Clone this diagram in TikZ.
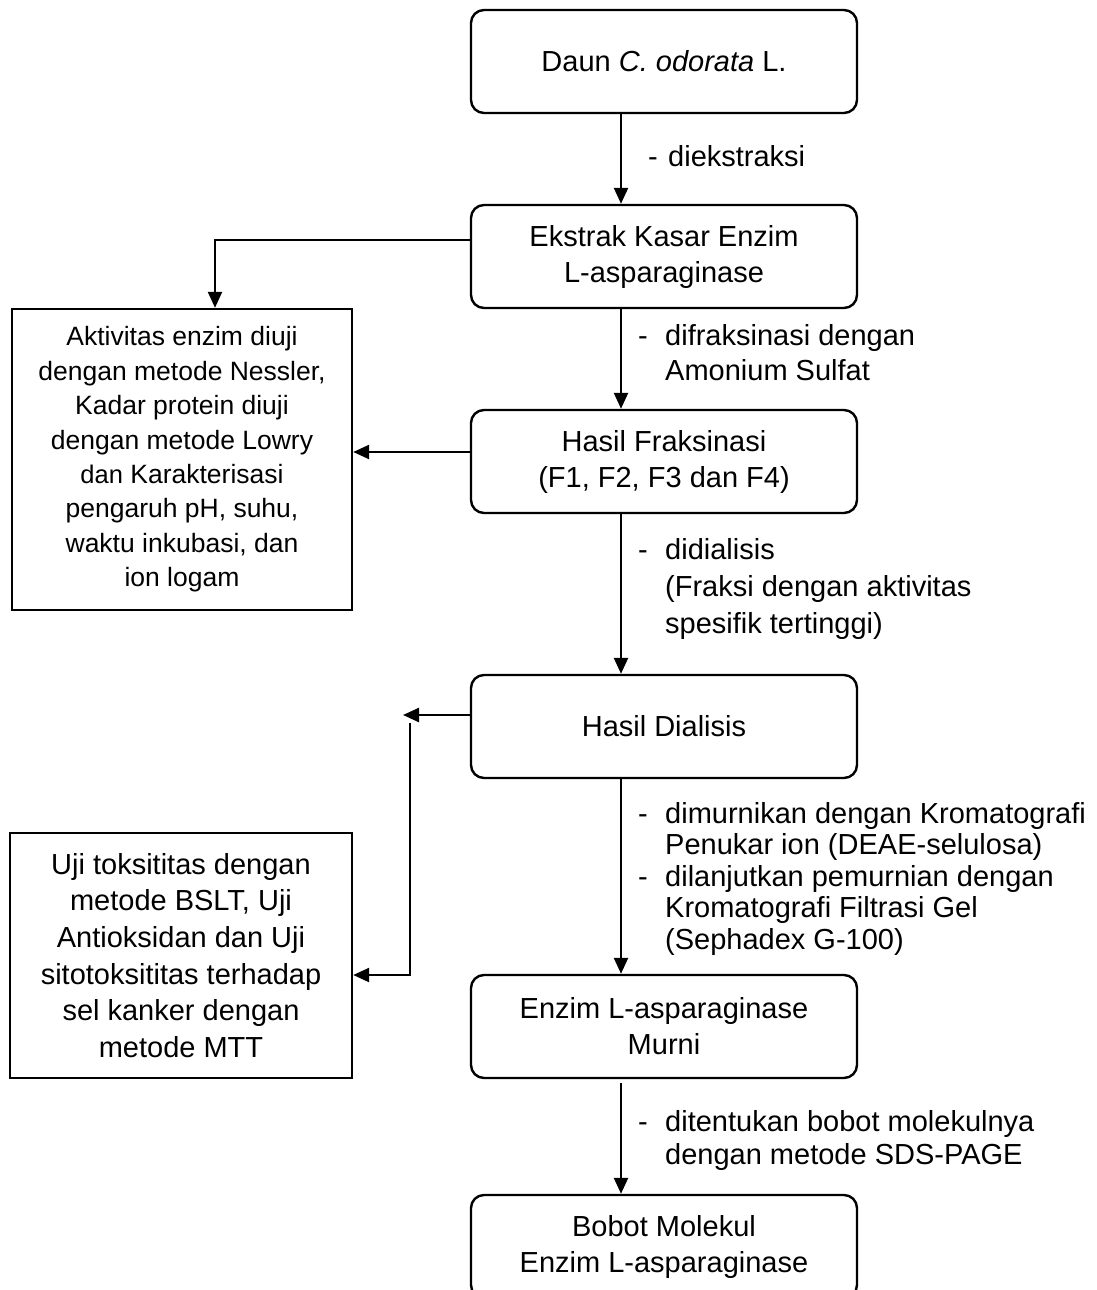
\documentclass[tikz,border=0pt]{standalone}
\usepackage{fontspec}
\setmainfont{Liberation Sans}
\usetikzlibrary{arrows.meta}
\begin{document}
\begin{tikzpicture}[x=1pt,y=-1pt,
  flowbox/.style={draw, line width=2.4pt, rounded corners=13pt,
    minimum width=386pt, minimum height=103pt, inner sep=0pt,
    align=center, font=\fontsize{29}{36}\selectfont},
  sidebox/.style={draw, line width=2.4pt, inner sep=0pt, align=center},
  lbl/.style={anchor=west, inner sep=0pt},
  arr/.style={line width=2.4pt, -{Triangle[length=16pt,width=14pt]}}
]
\useasboundingbox (0,0) rectangle (1096,1290);

% main column
\node[flowbox] (daun)     at (664,61.5)   {\raisebox{-3pt}{Daun \textit{C. odorata} L.}};
\node[flowbox] (ekstrak)  at (664,256.5)  {Ekstrak Kasar Enzim\\L-asparaginase};
\node[flowbox] (fraksi)   at (664,461.5)  {Hasil Fraksinasi\\(F1, F2, F3 dan F4)};
\node[flowbox] (dialisis) at (664,726.5)  {Hasil Dialisis};
\node[flowbox] (murni)    at (664,1026.5) {Enzim L-asparaginase\\Murni};
\node[flowbox] (bobot)    at (664,1246.5) {Bobot Molekul\\Enzim L-asparaginase};

% side boxes
\node[sidebox, minimum width=340pt, minimum height=301pt,
      font=\fontsize{26.5}{34.4}\selectfont] (aktiv) at (182,459.5)
  {Aktivitas enzim diuji\\dengan metode Nessler,\\Kadar protein diuji\\dengan metode Lowry\\{\fontsize{25.5}{34.4}\selectfont dan} Karakterisasi\\pengaruh pH, suhu,\\waktu inkubasi, dan\\ion logam};
\node[sidebox, minimum width=342pt, minimum height=245pt,
      font=\fontsize{29}{36.7}\selectfont] (uji) at (181,955.5)
  {Uji toksititas dengan\\metode BSLT, Uji\\Antioksidan dan Uji\\sitotoksititas terhadap\\sel kanker dengan\\metode MTT};

% step labels
\node[lbl, font=\fontsize{29}{35}\selectfont] (l1) at (648,159)
  {\begin{tabular}{@{}p{20pt}@{}l@{}}- & diekstraksi\end{tabular}};
\node[lbl, font=\fontsize{29}{35}\selectfont] (l2) at (638,355.5)
  {\begin{tabular}{@{}p{27pt}@{}l@{}}- & difraksinasi dengan\\ & Amonium Sulfat\end{tabular}};
\node[lbl, font=\fontsize{29}{37}\selectfont] (l3) at (638,589)
  {\begin{tabular}{@{}p{27pt}@{}l@{}}- & didialisis\\ & (Fraksi dengan aktivitas\\ & spesifik tertinggi)\end{tabular}};
\node[lbl, font=\fontsize{29}{31.5}\selectfont] (l4) at (638,880)
  {\begin{tabular}{@{}p{27pt}@{}l@{}}- & dimurnikan dengan Kromatografi\\ & Penukar ion (DEAE-selulosa)\\- & dilanjutkan pemurnian dengan\\ & Kromatografi Filtrasi Gel\\ & (Sephadex G-100)\end{tabular}};
\node[lbl, font=\fontsize{29}{33}\selectfont] (l5) at (638,1141.5)
  {\begin{tabular}{@{}p{27pt}@{}l@{}}- & ditentukan bobot molekulnya\\ & dengan metode SDS-PAGE\end{tabular}};

% guide coordinates for the connectors
\coordinate (xa) at (621,0);
\coordinate (xb) at (215,0);
\coordinate (dtip) at (403,715);
\coordinate (dtop) at (410,723);

% main flow
\draw[arr] (daun.south -| xa) -- (ekstrak.north -| xa);
\draw[arr] (ekstrak.south -| xa) -- (fraksi.north -| xa);
\draw[arr] (fraksi.south -| xa) -- (dialisis.north -| xa);
\draw[arr] (dialisis.south -| xa) -- (murni.north -| xa);
\draw[arr, shorten <=4pt] (murni.south -| xa) -- (bobot.north -| xa);

% side branches
\draw[arr] ([yshift=16.5pt]ekstrak.west) -| (aktiv.north -| xb);
\draw[arr] ([yshift=9.5pt]fraksi.west) -- ([yshift=9.5pt]fraksi.west -| aktiv.east);
\draw[arr] ([yshift=11.5pt]dialisis.west) -- (dtip);
\draw[arr] (dtop) |- ([yshift=-19.5pt]uji.east);
\end{tikzpicture}
\end{document}
